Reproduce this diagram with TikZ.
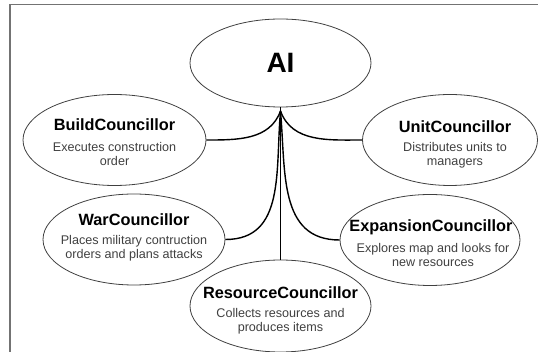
\documentclass[tikz,border=0pt]{standalone}
\usepackage{fontspec}
\setmainfont{Liberation Sans}
\usetikzlibrary{shapes.geometric}
\begin{document}
\begin{tikzpicture}[x=1pt,y=-1pt,
  oval/.style={draw=black!75, line width=0.8pt, ellipse, minimum width=#1, minimum height=91pt, inner sep=0pt},
  conn/.style={draw=black, line width=1.4pt},
  ttl/.style={font=\fontsize{16.3}{18}\selectfont\bfseries, text=black},
  dsc/.style={font=\fontsize{12.6}{14}\selectfont, text=black!75, align=center}]
\useasboundingbox (0,0) rectangle (538,352);
\draw[black!55, line width=1.3pt] (10,4.5) rectangle (548,362);
% ovals
\node[oval=181pt, minimum height=88pt] (ai) at (280.5,63) {};
\node[oval=183pt] (build) at (114.5,140) {};
\node[oval=175pt] (unit) at (450,140) {};
\node[oval=182pt] (war) at (134,239.5) {};
\node[oval=180pt] (exp) at (430,240) {};
\node[oval=181pt, minimum height=92pt] (res) at (280.5,306) {};
% texts
\node[font=\fontsize{28}{30}\selectfont\bfseries] (aitxt) at (280.5,63) {AI};
\node[ttl] (bt) at (114.5,125) {BuildCouncillor};
\node[dsc] (bd) at (114.5,153.5) {Executes construction\\order};
\node[ttl] (ut) at (455,126.5) {UnitCouncillor};
\node[dsc] (ud) at (455,155) {Distributes units to\\managers};
\node[ttl] (wt) at (134,219.5) {WarCouncillor};
\node[dsc] (wd) at (134,248) {Places military contruction\\orders and plans attacks};
\node[ttl] (et) at (431,227) {ExpansionCouncillor};
\node[dsc] (ed) at (433,255) {Explores map and looks for\\new resources};
\node[ttl] (rt) at (280.5,293) {ResourceCouncillor};
\node[dsc] (rd) at (280.5,321.5) {Collects resources and\\produces items};
% connectors
\coordinate (j) at (280.5,111);
\draw[conn] (ai.south) -- (j);
\draw[conn] (j) -- (res.north);
\draw[conn] (j) to[out=-110,in=0] (build.east);
\draw[conn] (j) to[out=-70,in=180] (unit.west);
\draw[conn] (j) to[out=-95,in=0,looseness=1.1] (war.east);
\draw[conn] (j) to[out=-85,in=180,looseness=1.1] (exp.west);
\end{tikzpicture}
\end{document}
